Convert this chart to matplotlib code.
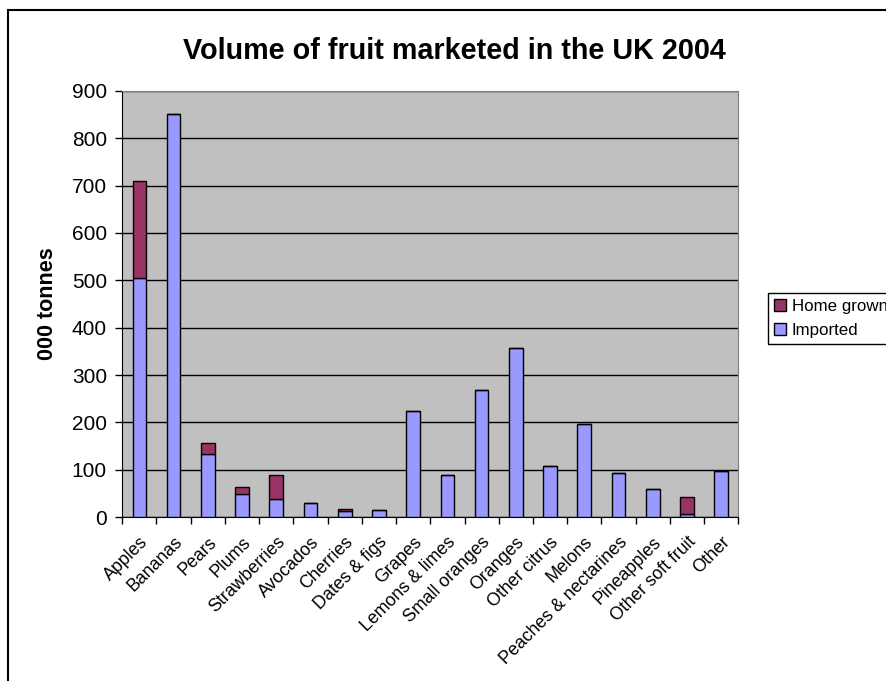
import numpy as np
import matplotlib
matplotlib.use("Agg")
import matplotlib.pyplot as plt
from matplotlib.patches import Rectangle

plt.rcParams['font.family'] = ['Liberation Sans', 'DejaVu Sans']

fruits = ['Apples', 'Bananas', 'Pears', 'Plums', 'Strawberries', 'Avocados',
          'Cherries', 'Dates & figs', 'Grapes', 'Lemons & limes', 'Small oranges',
          'Oranges', 'Other citrus', 'Melons', 'Peaches & nectarines',
          'Pineapples', 'Other soft fruit', 'Other']
imported = [504, 852, 133, 49, 39, 30, 13, 14, 224, 88, 268, 357, 108, 197,
            92, 60, 7, 98]
home_grown = [206, 0, 24, 14, 49, 0, 4, 0, 0, 0, 0, 0, 0, 0, 0, 0, 36, 0]

fig = plt.figure(figsize=(8.86, 6.81), dpi=100)
ax = fig.add_axes([0.138, 0.2408, 0.6953, 0.6256])
ax.set_facecolor('#C0C0C0')

x = np.arange(len(fruits))
b_imp = ax.bar(x, imported, width=0.4, color='#9999FF', edgecolor='black',
               linewidth=1, label='Imported', zorder=3)
b_home = ax.bar(x, home_grown, width=0.4, bottom=imported, color='#993366',
                edgecolor='black', linewidth=1, label='Home grown', zorder=3)

ax.set_xlim(-0.5, len(fruits) - 0.5)
ax.set_ylim(0, 900)
ax.set_yticks(range(0, 901, 100))
ax.yaxis.grid(True, color='black', linewidth=1)
ax.set_axisbelow(True)
ax.tick_params(axis='y', labelsize=15, length=5, width=1, direction='out', pad=6)

# category separators as major ticks, names on minor ticks
ax.set_xticks(np.arange(-0.5, len(fruits), 1))
ax.set_xticklabels([])
ax.set_xticks(x, minor=True)
ax.set_xticklabels(fruits, minor=True, rotation=45, ha='right',
                   rotation_mode='anchor', fontsize=12.8)
ax.tick_params(axis='x', which='major', length=5, width=1, direction='out')
ax.tick_params(axis='x', which='minor', length=0, pad=12)

for side in ['top', 'right']:
    ax.spines[side].set_color('#808080')
for side in ['left', 'bottom']:
    ax.spines[side].set_color('black')

ax.set_ylabel('000 tonnes', fontsize=15.5, fontweight='bold', labelpad=10)

fig.text(0.5124, 0.9134, 'Volume of fruit marketed in the UK 2004',
         ha='center', va='baseline', fontsize=20.7, fontweight='bold')

leg = fig.legend(handles=[b_home, b_imp], labels=['Home grown', 'Imported'],
                 loc='upper left', bbox_to_anchor=(768 / 886, 1 - 293 / 681),
                 borderaxespad=0, fontsize=12.2, fancybox=False,
                 framealpha=1, edgecolor='black', handlelength=0.7,
                 handleheight=0.7, handletextpad=0.35, labelspacing=0.55,
                 borderpad=0.35)
leg.get_frame().set_linewidth(1)

fig.patches.append(Rectangle((8 / 886, -0.1), 1.2, 1 - 10 / 681 + 0.1,
                             transform=fig.transFigure, fill=False,
                             edgecolor='black', linewidth=1.5))

fig.savefig('out.png', dpi=100)
